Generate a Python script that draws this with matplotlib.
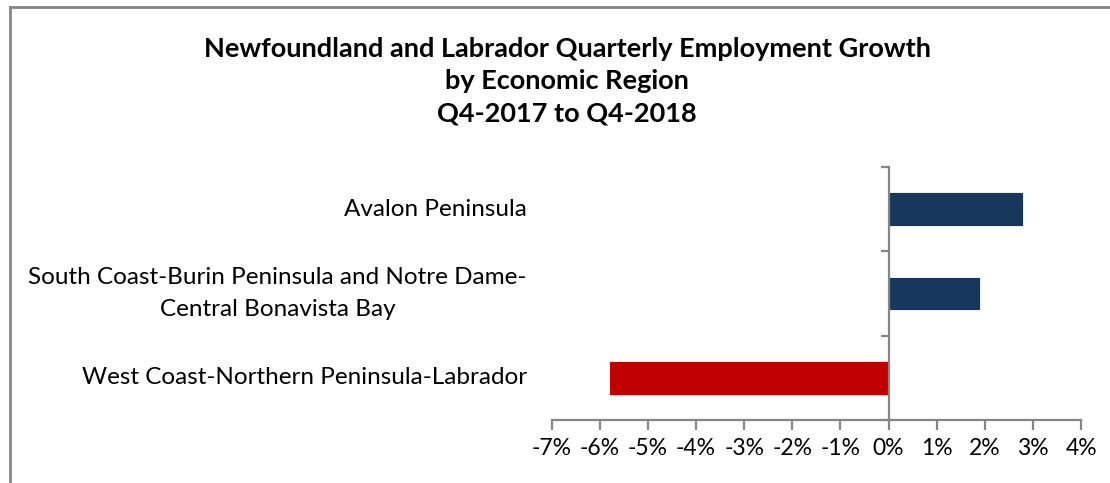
#!/usr/bin/env python3

import matplotlib
matplotlib.use("Agg")
import matplotlib.pyplot as plt
from matplotlib.lines import Line2D
from matplotlib.ticker import FixedLocator, FuncFormatter

# data (top to bottom)
REGIONS = [
    "Avalon Peninsula",
    "South Coast-Burin Peninsula and Notre Dame-\nCentral Bonavista Bay",
    "West Coast-Northern Peninsula-Labrador",
]
GROWTH_PCT = [2.8, 1.9, -5.8]
X_TICKS = [-7, -6, -5, -4, -3, -2, -1, 0, 1, 2, 3, 4]
TITLE = ("Newfoundland and Labrador Quarterly Employment Growth\n"
         "by Economic Region\nQ4-2017 to Q4-2018")

POS_COLOR = "#17375E"
NEG_COLOR = "#C00000"
AXIS_COLOR = "#868686"

plt.rcParams["font.family"] = ["Lato", "DejaVu Sans"]

fig = plt.figure(figsize=(11.1, 4.83), dpi=100)
ax = fig.add_axes([0.497, 0.1304, 0.477, 0.5238])

ypos = list(range(len(REGIONS)))
colors = [POS_COLOR if v >= 0 else NEG_COLOR for v in GROWTH_PCT]
ax.barh(ypos, GROWTH_PCT, height=0.4, color=colors, edgecolor="white", linewidth=0.6)

ax.set_xlim(X_TICKS[0], X_TICKS[-1])
ax.set_ylim(len(REGIONS) - 0.5, -0.5)

# spines
for side in ("top", "right"):
    ax.spines[side].set_visible(False)
ax.spines["left"].set_position(("data", 0))
for side in ("left", "bottom"):
    ax.spines[side].set_color(AXIS_COLOR)
    ax.spines[side].set_linewidth(1.6)

# x ticks
ax.set_xticks(X_TICKS)
ax.xaxis.set_major_formatter(FuncFormatter(lambda v, _: f"{v:.0f}%"))
ax.tick_params(axis="x", direction="out", length=7, width=1.6, color=AXIS_COLOR,
               labelsize=16.5, labelcolor="#000000", pad=6)

# y ticks at category boundaries, labels drawn separately
ax.set_yticks([])
ax.yaxis.set_minor_locator(FixedLocator([y - 0.5 for y in range(len(REGIONS) + 1)]))
ax.tick_params(axis="y", which="minor", direction="out", length=6, width=1.6,
               color=AXIS_COLOR)

for y, name in zip(ypos, REGIONS):
    ax.text(-0.047, y, name, transform=ax.get_yaxis_transform(), ha="right",
            va="center", multialignment="center", fontsize=17.5, color="#000000",
            linespacing=1.7)

fig.text(0.511, 0.832, TITLE, ha="center", va="center", fontsize=19.5,
         fontweight="bold", linespacing=1.4)

# chart frame (left and top edges visible)
fig.add_artist(Line2D([0.009, 0.009], [0.0, 0.986], color=AXIS_COLOR, lw=2))
fig.add_artist(Line2D([0.009, 1.0], [0.986, 0.986], color=AXIS_COLOR, lw=2))

fig.savefig("out.png", dpi=100)
